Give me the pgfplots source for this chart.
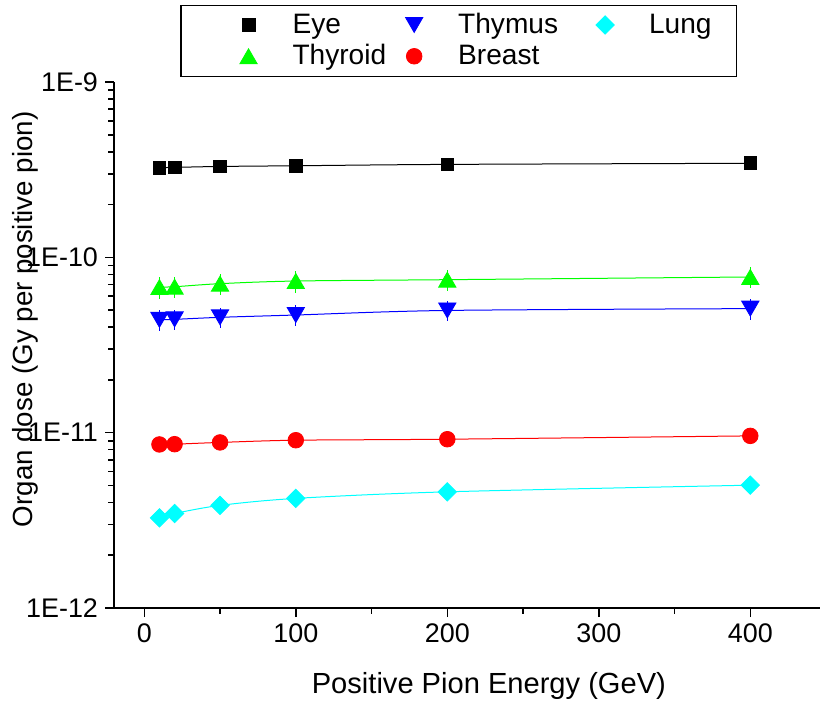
\documentclass[border=0pt]{standalone}
\usepackage{pgfplots}
\pgfplotsset{compat=1.18}
\usepackage{fontspec}
\setmainfont{Liberation Sans}
\definecolor{cgreen}{RGB}{0,255,0}
\definecolor{cblue}{RGB}{0,0,255}
\definecolor{cred}{RGB}{255,0,0}
\definecolor{ccyan}{RGB}{0,255,255}
\begin{document}
\begin{tikzpicture}
\begin{axis}[
  clip=false,
  scale only axis, width=353bp, height=263bp,
  xmin=-20, xmax=446, ymode=log, ymin=1e-12, ymax=1e-9,
  axis x line=bottom, axis y line=left,
  axis line style={-, line width=0.8bp},
  xtick={0,100,...,400}, minor xtick={50,150,250,350},
  ytick={1e-12,1e-11,1e-10,1e-9}, yticklabels={1E-12,1E-11,1E-10,1E-9},
  minor ytick={2e-12,3e-12,4e-12,5e-12,6e-12,7e-12,8e-12,9e-12,2e-11,3e-11,4e-11,5e-11,6e-11,7e-11,8e-11,9e-11,2e-10,3e-10,4e-10,5e-10,6e-10,7e-10,8e-10,9e-10},
  tick align=outside, major tick length=4.5bp, minor tick length=2.8bp,
  tick style={black, line width=0.8bp},
  /pgf/number format/assume math mode=true,
  ticklabel style={font=\fontsize{13.5}{15}\selectfont},
  xlabel={Positive Pion Energy (GeV)},
  ylabel={Organ dose (Gy per positive pion)},
  xlabel style={font=\fontsize{14.6}{16}\selectfont, at={(axis description cs:0.531,-0.148)}, anchor=center},
  ylabel style={font=\fontsize{13.9}{16}\selectfont, at={(axis description cs:-0.126,0.549)}, anchor=center},
  legend columns=3,
  legend cell align=left,
  legend image code/.code={\path[use as bounding box, draw=none, fill=none] (0bp,-5bp) rectangle (26bp,5bp); \draw[#1] plot coordinates {(6bp,0bp)};},
  legend style={draw=none, fill=none, inner sep=0pt, font=\fontsize{14.1}{14.6}\selectfont,
    at={(axis description cs:0.173,1.139)}, anchor=north west,
    /tikz/column 2/.style={column sep=6bp},
    /tikz/column 4/.style={column sep=15.5bp}},
  error bars/y dir=both, error bars/y explicit relative,
  error bars/error mark=none,
]
% Eye
\addplot[black, line width=0.5bp, smooth, forget plot] coordinates {(10,3.25e-10)(20,3.26e-10)(50,3.30e-10)(100,3.33e-10)(200,3.39e-10)(400,3.44e-10)};
\addplot[black, only marks, mark=square*, mark size=3.2bp] coordinates {(10,3.25e-10)(20,3.26e-10)(50,3.30e-10)(100,3.33e-10)(200,3.39e-10)(400,3.44e-10)};
\addlegendentry{Eye}
% Thymus
\addplot[cblue, line width=0.5bp, smooth, forget plot] coordinates {(10,4.40e-11)(20,4.43e-11)(50,4.55e-11)(100,4.69e-11)(200,4.98e-11)(400,5.10e-11)};
\addplot[cblue, only marks, mark=triangle*, mark size=5bp, mark options={yshift=1.25bp, rotate=180}, error bars/error bar style={cblue, line width=0.5bp}] coordinates {(10,4.40e-11)+-(0,0.135)(20,4.43e-11)+-(0,0.135)(50,4.55e-11)+-(0,0.135)(100,4.69e-11)+-(0,0.135)(200,4.98e-11)+-(0,0.135)(400,5.10e-11)+-(0,0.135)};
\addlegendentry{Thymus}
% Lung
\addplot[ccyan, line width=0.5bp, smooth, forget plot] coordinates {(10,3.27e-12)(20,3.46e-12)(50,3.85e-12)(100,4.22e-12)(200,4.60e-12)(400,5.02e-12)};
\addplot[ccyan, only marks, mark=square*, mark size=3.25bp, mark options={rotate=45}] coordinates {(10,3.27e-12)(20,3.46e-12)(50,3.85e-12)(100,4.22e-12)(200,4.60e-12)(400,5.02e-12)};
\addlegendentry{Lung}
% Thyroid
\addplot[cgreen, line width=0.5bp, smooth, forget plot] coordinates {(10,6.77e-11)(20,6.8e-11)(50,7.08e-11)(100,7.33e-11)(200,7.46e-11)(400,7.73e-11)};
\addplot[cgreen, only marks, mark=triangle*, mark size=5bp, mark options={yshift=-1.25bp}, error bars/error bar style={cgreen, line width=0.5bp}] coordinates {(10,6.77e-11)+-(0,0.14)(20,6.8e-11)+-(0,0.14)(50,7.08e-11)+-(0,0.14)(100,7.33e-11)+-(0,0.14)(200,7.46e-11)+-(0,0.14)(400,7.73e-11)+-(0,0.14)};
\addlegendentry{Thyroid}
% Breast
\addplot[cred, line width=0.5bp, smooth, forget plot] coordinates {(10,8.57e-12)(20,8.6e-12)(50,8.8e-12)(100,9.06e-12)(200,9.18e-12)(400,9.59e-12)};
\addplot[cred, only marks, mark=*, mark size=3.9bp] coordinates {(10,8.57e-12)(20,8.6e-12)(50,8.8e-12)(100,9.06e-12)(200,9.18e-12)(400,9.59e-12)};
\addlegendentry{Breast}
\draw[black, line width=0.7bp] (axis description cs:0.095,1.146) rectangle (axis description cs:0.882,1.011);
\end{axis}
\pgfresetboundingbox
\path ([shift={(-57bp,-47bp)}]current axis.south west) rectangle ([shift={(0bp,41bp)}]current axis.north east);
\end{tikzpicture}
\end{document}
